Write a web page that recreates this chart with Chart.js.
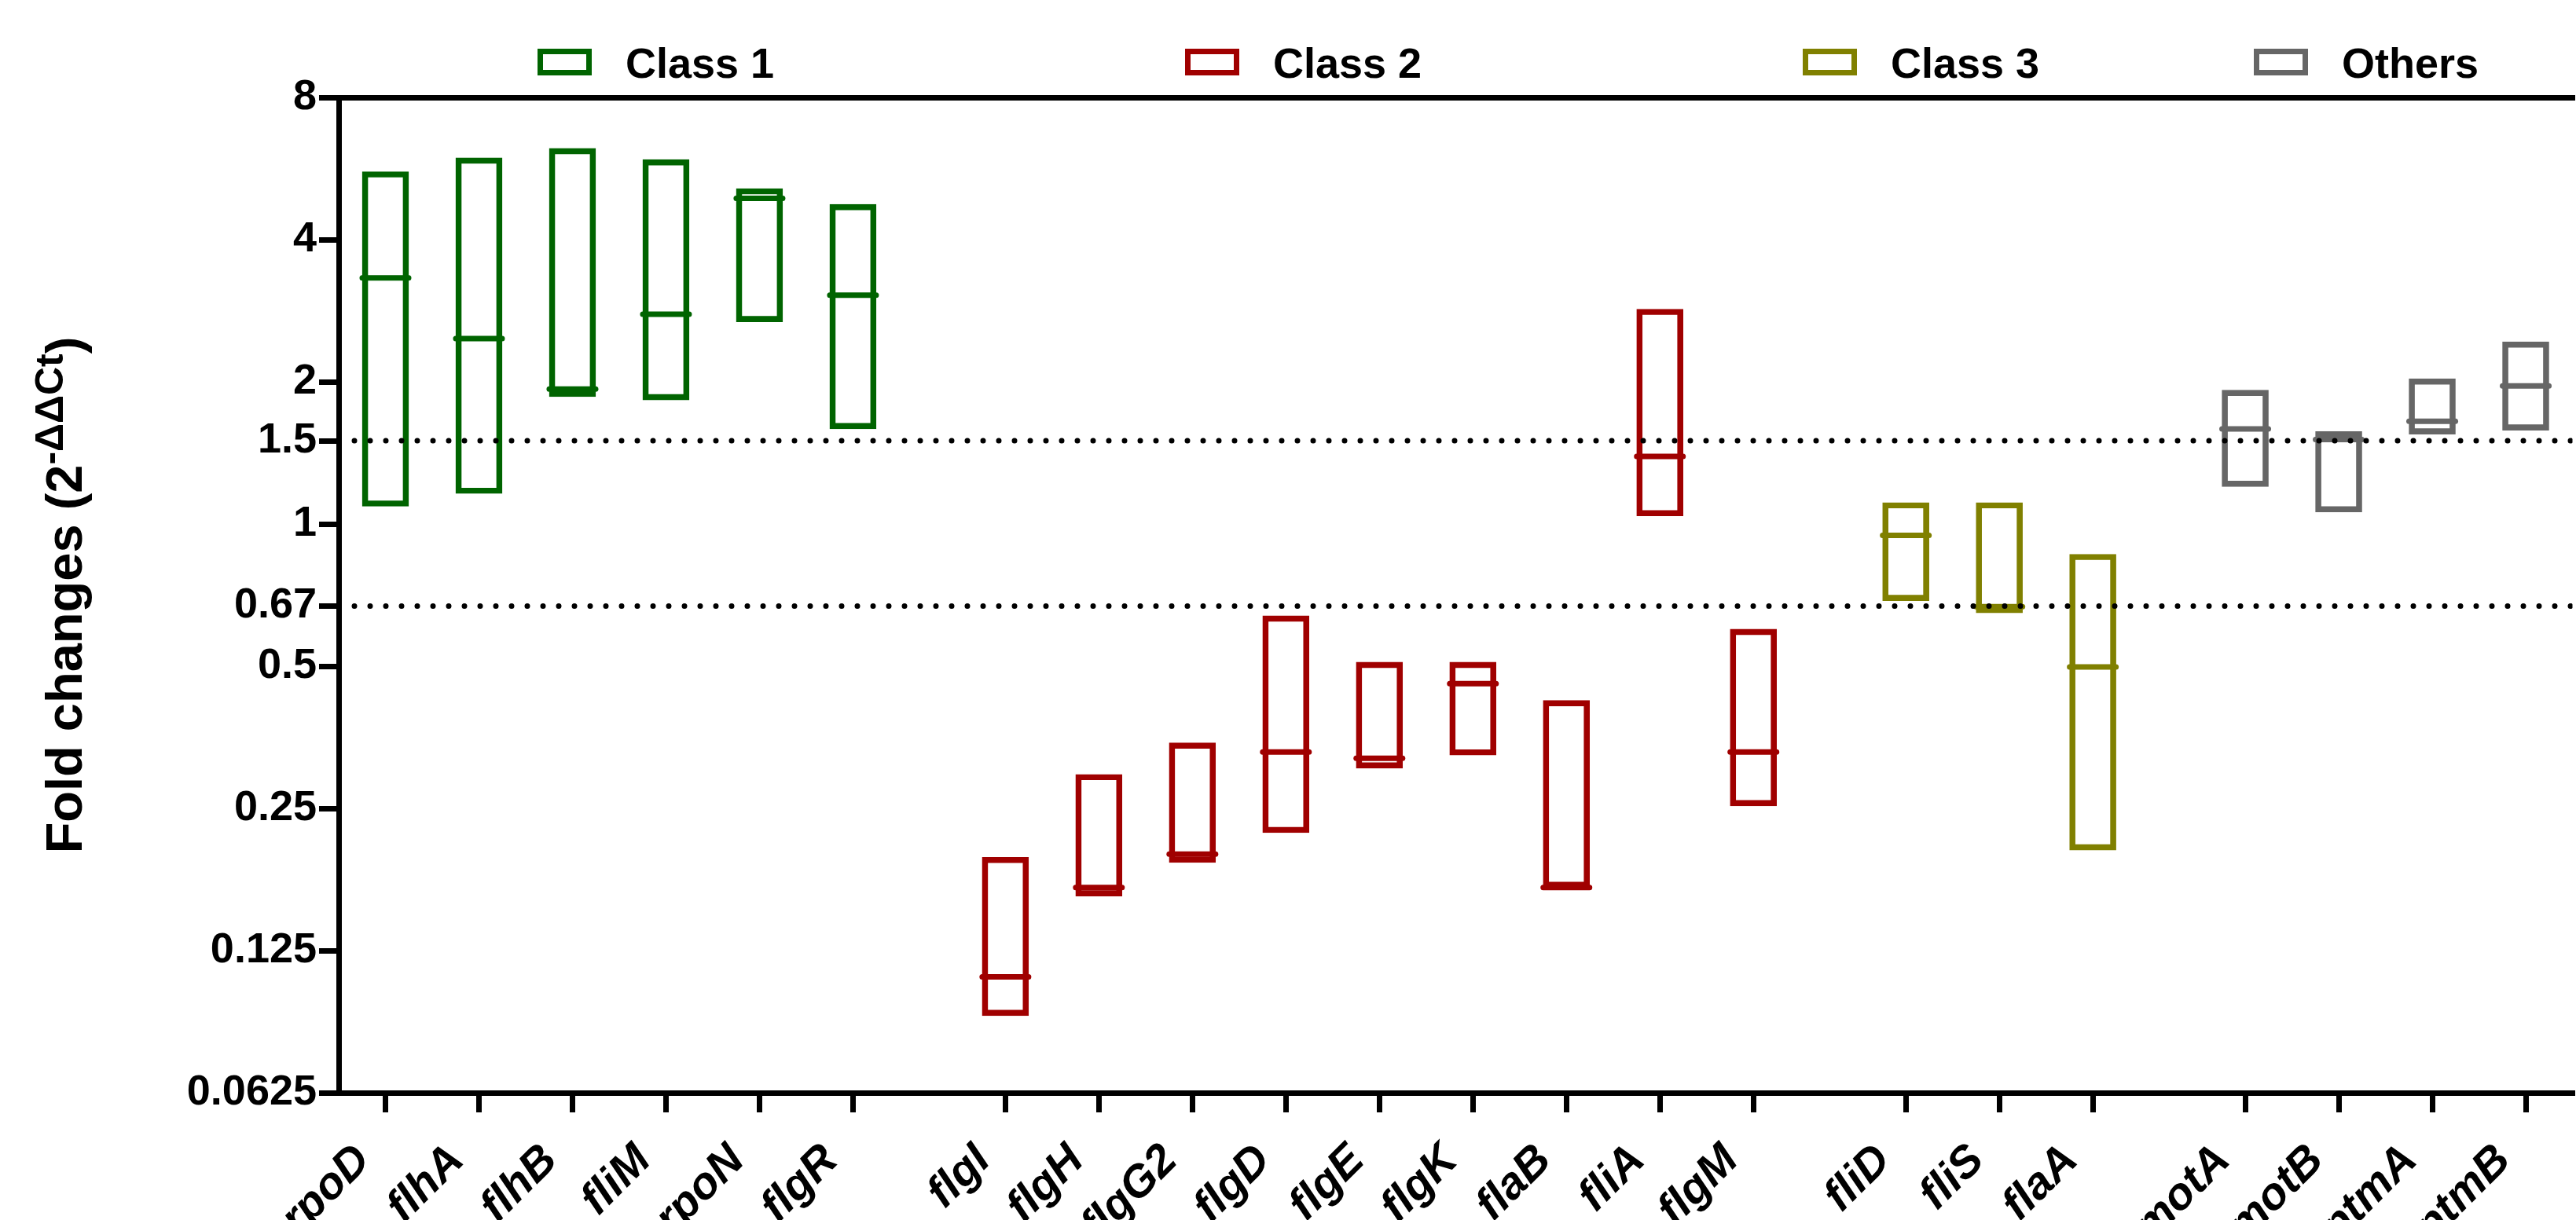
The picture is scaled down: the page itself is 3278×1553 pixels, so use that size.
<!DOCTYPE html>
<html>
<head>
<meta charset="utf-8">
<title>Fold changes of flagellar genes</title>
<script src="https://cdn.jsdelivr.net/npm/chart.js@4/dist/chart.umd.min.js"></script>
<style>
  html, body { margin: 0; padding: 0; background: #ffffff; overflow: hidden; }
  #wrap { position: relative; width: 3310px; height: 1553px; }
  canvas { display: block; }
</style>
</head>
<body>
<div id="wrap"><canvas id="chart" width="3310" height="1553"></canvas></div>
<script>
// ---- Fold-change ranges (2^-ΔΔCt): min, max and mean per gene ----
const class1Genes = ['rpoD', 'flhA', 'flhB', 'fliM', 'rpoN', 'flgR'];
const class1Min   = [1.09, 1.16, 1.86, 1.83, 2.68, 1.59];
const class1Max   = [5.57, 5.96, 6.24, 5.91, 5.13, 4.75];
const class1Mean  = [3.32, 2.47, 1.93, 2.78, 4.89, 3.05];

const class2Genes = ['flgI', 'flgH', 'flgG2', 'flgD', 'flgE', 'flgK', 'flaB', 'fliA', 'flgM'];
const class2Min   = [0.091, 0.163, 0.192, 0.222, 0.304, 0.324, 0.170, 1.04, 0.253];
const class2Max   = [0.197, 0.295, 0.344, 0.639, 0.510, 0.510, 0.423, 2.85, 0.599];
const class2Mean  = [0.110, 0.170, 0.200, 0.329, 0.319, 0.459, 0.170, 1.39, 0.329];

const class3Genes = ['fliD', 'fliS', 'flaA'];
const class3Min   = [0.688, 0.648, 0.204];
const class3Max   = [1.11, 1.11, 0.863];
const class3Mean  = [0.946, 0.668, 0.498];

const otherGenes  = ['motA', 'motB', 'ptmA', 'ptmB'];
const otherMin    = [1.20, 1.06, 1.55, 1.58];
const otherMax    = [1.92, 1.57, 2.03, 2.43];
const otherMean   = [1.59, 1.51, 1.65, 1.96];

const groupNames  = ['Class 1', 'Class 2', 'Class 3', 'Others'];
const yTickValues = [0.0625, 0.125, 0.25, 0.5, 0.67, 1, 1.5, 2, 4, 8];
const cutoffs     = [1.5, 0.67];

// ---- Styling / layout ----
const FONT = "'Liberation Sans', Arial, Helvetica, sans-serif";
const groupColors = ['#006400', '#A00000', '#808000', '#666666'];
const GROUP_GAP = 0.63;   // extra space between gene classes, in gene slots

const groups = [
  { genes: class1Genes, min: class1Min, max: class1Max, mean: class1Mean },
  { genes: class2Genes, min: class2Min, max: class2Max, mean: class2Mean },
  { genes: class3Genes, min: class3Min, max: class3Max, mean: class3Mean },
  { genes: otherGenes,  min: otherMin,  max: otherMax,  mean: otherMean }
];

// slot positions along the x axis (one per gene, classes separated by a gap)
const tickPos = [];
const tickNames = [];
let slot = 0;
groups.forEach((g, gi) => {
  g.xs = g.genes.map(name => {
    const x = slot + gi * GROUP_GAP;
    slot += 1;
    tickPos.push(x);
    tickNames.push(name);
    return x;
  });
});
const xMin = tickPos[0] - 0.5;
const xMax = tickPos[tickPos.length - 1] + 0.5;

const datasets = [];
groups.forEach((g, gi) => {
  datasets.push({
    type: 'bar',
    label: groupNames[gi],
    data: g.xs.map((x, i) => ({ x: x, y: [g.min[i], g.max[i]] })),
    backgroundColor: 'rgba(0,0,0,0)',
    borderColor: groupColors[gi],
    borderWidth: 7,
    borderSkipped: false,
    grouped: false,
    barThickness: 59,
    order: 2
  });
});
groups.forEach((g, gi) => {
  datasets.push({
    type: 'scatter',
    label: groupNames[gi] + ' mean',
    data: g.xs.map((x, i) => ({ x: x, y: g.mean[i] })),
    pointStyle: 'line',
    pointRadius: 29.5,
    pointHoverRadius: 29.5,
    pointBorderWidth: 7,
    pointBorderColor: groupColors[gi],
    borderColor: groupColors[gi],
    backgroundColor: groupColors[gi],
    borderWidth: 7,
    order: 1
  });
});
cutoffs.forEach(c => {
  datasets.push({
    type: 'scatter',
    label: 'cutoff ' + c,
    data: [{ x: xMin, y: c }, { x: xMax, y: c }],
    showLine: true,
    borderColor: '#000000',
    borderWidth: 7,
    borderDash: [0, 20],
    borderCapStyle: 'round',
    pointRadius: 0,
    order: 0
  });
});

// round line caps for the mean markers
const roundCaps = {
  id: 'roundCaps',
  beforeDatasetDraw(chart) { chart.ctx.save(); chart.ctx.lineCap = 'round'; },
  afterDatasetDraw(chart) { chart.ctx.restore(); }
};

// class legend across the top, one entry per bar dataset
const classLegend = {
  id: 'classLegend',
  afterDraw(chart, args, opts) {
    const ctx = chart.ctx;
    const bars = chart.data.datasets.filter(d => d.type === 'bar');
    ctx.save();
    bars.forEach((ds, i) => {
      const left = opts.boxLeft[i];
      ctx.strokeStyle = ds.borderColor;
      ctx.lineWidth = opts.lineWidth;
      const hw = opts.lineWidth / 2;
      ctx.strokeRect(left + hw, opts.boxTop + hw, opts.boxWidth - opts.lineWidth, opts.boxHeight - opts.lineWidth);
      ctx.fillStyle = '#000000';
      ctx.font = 'bold ' + opts.fontSize + 'px ' + FONT;
      ctx.textAlign = 'left';
      ctx.textBaseline = 'alphabetic';
      ctx.fillText(ds.label, left + opts.textOffset, opts.baseline);
    });
    ctx.restore();
  }
};

// rotated y-axis title with a superscript exponent
const yTitle = {
  id: 'yTitle',
  afterDraw(chart, args, opts) {
    const ctx = chart.ctx;
    const area = chart.chartArea;
    const cy = (area.top + area.bottom) / 2;
    const mainFont = 'bold ' + opts.size + 'px ' + FONT;
    const supFont = 'bold ' + opts.supSize + 'px ' + FONT;
    ctx.save();
    ctx.fillStyle = '#000000';
    ctx.textBaseline = 'alphabetic';
    ctx.textAlign = 'left';
    ctx.font = mainFont;
    const w1 = ctx.measureText(opts.text).width;
    const w3 = ctx.measureText(opts.close).width;
    ctx.font = supFont;
    const w2 = ctx.measureText(opts.sup).width;
    const total = w1 + w2 + w3;
    ctx.translate(opts.x, cy);
    ctx.rotate(-Math.PI / 2);
    let x = -total / 2;
    ctx.font = mainFont;
    ctx.fillText(opts.text, x, 0);
    x += w1;
    ctx.font = supFont;
    ctx.fillText(opts.sup, x, -opts.raise);
    x += w2;
    ctx.font = mainFont;
    ctx.fillText(opts.close, x, 0);
    ctx.restore();
  }
};

new Chart(document.getElementById('chart'), {
  type: 'bar',
  data: { datasets: datasets },
  plugins: [roundCaps, classLegend, yTitle],
  options: {
    responsive: false,
    animation: false,
    devicePixelRatio: 1,
    events: [],
    layout: { padding: { top: 124, right: 11, left: 0, bottom: 0 } },
    plugins: {
      legend: { display: false },
      tooltip: { enabled: false },
      classLegend: {
        boxLeft: [684, 1508, 2294, 2868],
        boxTop: 62, boxWidth: 69, boxHeight: 34, lineWidth: 7,
        textOffset: 112, baseline: 99, fontSize: 54
      },
      yTitle: {
        text: 'Fold changes (2', sup: '-ΔΔCt', close: ')',
        size: 65, supSize: 50, raise: 24, x: 104
      }
    },
    scales: {
      x: {
        type: 'linear',
        position: 'bottom',
        offset: false,
        min: xMin,
        max: xMax,
        afterBuildTicks: s => { s.ticks = tickPos.map(v => ({ value: v })); },
        afterFit: s => { s.height = 162; },
        ticks: {
          autoSkip: false,
          minRotation: 45,
          maxRotation: 45,
          padding: 28,
          labelOffset: -28,
          color: '#000000',
          font: { family: FONT, size: 57, weight: 'bold', style: 'italic' },
          callback: (v, i) => tickNames[i]
        },
        grid: { offset: false, drawOnChartArea: false, drawTicks: true, tickLength: 25, lineWidth: 7, tickWidth: 7, color: '#000000', tickColor: '#000000' },
        border: { display: true, color: '#000000', width: 7 }
      },
      xTop: {
        type: 'linear',
        position: 'top',
        display: true,
        offset: false,
        min: xMin,
        max: xMax,
        afterFit: s => { s.height = 0; },
        ticks: { display: false },
        grid: { offset: false, display: true, drawOnChartArea: false, drawTicks: false, lineWidth: 7, color: '#000000' },
        border: { display: true, color: '#000000', width: 7 }
      },
      y: {
        type: 'logarithmic',
        min: 0.0625,
        max: 8,
        afterBuildTicks: s => { s.ticks = yTickValues.map(v => ({ value: v })); },
        afterFit: s => { s.width = 431; },
        ticks: {
          autoSkip: false,
          padding: 3,
          color: '#000000',
          font: { family: FONT, size: 54, weight: 'bold' },
          callback: v => String(v)
        },
        grid: { drawOnChartArea: false, drawTicks: true, tickLength: 25, lineWidth: 7, tickWidth: 7, color: '#000000', tickColor: '#000000' },
        border: { display: true, color: '#000000', width: 7 }
      }
    }
  }
});
</script>
</body>
</html>
